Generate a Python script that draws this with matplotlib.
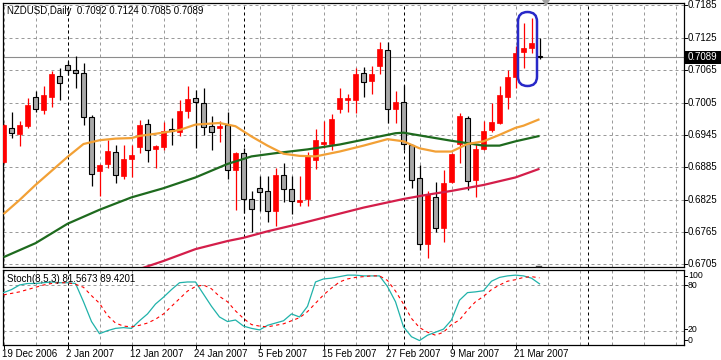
import matplotlib
matplotlib.use('Agg')
import matplotlib.pyplot as plt
from matplotlib.patches import Rectangle, FancyBboxPatch, Polygon
from matplotlib.lines import Line2D
from matplotlib.transforms import IdentityTransform, blended_transform_factory

plt.rcParams['font.family'] = ['Liberation Sans', 'DejaVu Sans']
plt.rcParams['font.size'] = 7

# ---------------- data ----------------
opens = [0.6895, 0.6958, 0.6947, 0.6961, 0.7015, 0.6992, 0.7016, 0.7055, 0.7074, 0.7066,
         0.7060, 0.6979, 0.6877, 0.6891, 0.6913, 0.6869, 0.6901, 0.6923, 0.6965, 0.6919,
         0.6923, 0.6956, 0.6950, 0.6990, 0.7013, 0.7004, 0.6961, 0.6957, 0.6964, 0.6880,
         0.6911, 0.6826, 0.6846, 0.6840, 0.6804, 0.6871, 0.6844, 0.6821, 0.6826, 0.6899,
         0.6928, 0.6928, 0.6993, 0.7010, 0.7010, 0.7060, 0.7044, 0.7072, 0.7103, 0.6993,
         0.7006, 0.6927, 0.6865, 0.6742, 0.6829, 0.6773, 0.6858, 0.6928, 0.6976, 0.6861,
         0.6919, 0.6954, 0.6967, 0.7016, 0.7053, 0.7099, 0.7106, 0.7092]
highs = [0.6966, 0.6988, 0.6970, 0.7013, 0.7026, 0.7035, 0.7063, 0.7069, 0.7082, 0.7091,
         0.7078, 0.6982, 0.6890, 0.6936, 0.6927, 0.6927, 0.6927, 0.6972, 0.6974, 0.6927,
         0.6968, 0.6976, 0.7009, 0.7035, 0.7029, 0.7032, 0.6980, 0.6970, 0.6988, 0.6914,
         0.6920, 0.6841, 0.6868, 0.6868, 0.6883, 0.6893, 0.6868, 0.6868, 0.6914, 0.6955,
         0.6970, 0.6984, 0.7032, 0.7021, 0.7069, 0.7070, 0.7072, 0.7118, 0.7117, 0.7026,
         0.7038, 0.6928, 0.6889, 0.6840, 0.6858, 0.6880, 0.6911, 0.6985, 0.6980, 0.6928,
         0.6970, 0.7005, 0.7035, 0.7066, 0.7109, 0.7153, 0.7162, 0.7124]
lows = [0.6893, 0.6939, 0.6925, 0.6958, 0.6987, 0.6984, 0.6997, 0.7010, 0.7056, 0.7032,
        0.6964, 0.6851, 0.6832, 0.6883, 0.6856, 0.6863, 0.6866, 0.6912, 0.6894, 0.6883,
        0.6917, 0.6927, 0.6942, 0.6976, 0.6920, 0.6945, 0.6917, 0.6931, 0.6863, 0.6806,
        0.6800, 0.6764, 0.6803, 0.6784, 0.6775, 0.6821, 0.6798, 0.6813, 0.6813, 0.6881,
        0.6920, 0.6917, 0.6985, 0.6988, 0.6985, 0.7016, 0.7021, 0.7058, 0.6967, 0.6967,
        0.6917, 0.6846, 0.6731, 0.6716, 0.6764, 0.6747, 0.6855, 0.6893, 0.6843, 0.6830,
        0.6916, 0.6951, 0.6965, 0.6993, 0.7032, 0.7069, 0.7097, 0.7085]
closes = [0.6964, 0.6948, 0.6964, 0.7001, 0.6993, 0.7019, 0.7057, 0.7041, 0.7065, 0.7060,
          0.6978, 0.6873, 0.6889, 0.6915, 0.6870, 0.6900, 0.6908, 0.6964, 0.6917, 0.6925,
          0.6953, 0.6952, 0.6990, 0.7012, 0.7006, 0.6959, 0.6951, 0.6962, 0.6880, 0.6911,
          0.6826, 0.6807, 0.6839, 0.6803, 0.6871, 0.6844, 0.6822, 0.6824, 0.6905, 0.6935,
          0.6932, 0.6975, 0.7013, 0.7014, 0.7058, 0.7043, 0.7057, 0.7104, 0.6993, 0.7006,
          0.6928, 0.6861, 0.6742, 0.6835, 0.6773, 0.6856, 0.6910, 0.6980, 0.6860, 0.6919,
          0.6953, 0.6969, 0.7019, 0.7052, 0.7097, 0.7106, 0.7115, 0.7089]

# moving averages (bar index, value)
ma_orange_idx = [0, 2, 4, 6, 8, 10, 12, 14, 16, 17, 19, 22, 24, 27, 29, 31, 33, 35, 37, 39,
                 42, 45, 48, 50, 52, 54, 56, 58, 60, 62, 64, 65, 67]
ma_orange_val = [0.6798, 0.6824, 0.6852, 0.6878, 0.6904, 0.6928, 0.6935, 0.6938, 0.6939, 0.6943,
                 0.6947, 0.6954, 0.6964, 0.6967, 0.6961, 0.6942, 0.6925, 0.6910, 0.6906, 0.6905,
                 0.6914, 0.6925, 0.6937, 0.6933, 0.6920, 0.6914, 0.6914, 0.6928, 0.6933, 0.6945,
                 0.6958, 0.6962, 0.6974]
ma_green_idx = [0, 4, 8, 12, 16, 20, 24, 28, 31, 34, 38, 42, 46, 49, 50, 52, 56, 60, 62, 64, 67]
ma_green_val = [0.6718, 0.6744, 0.6780, 0.6806, 0.6829, 0.6846, 0.6866, 0.6891, 0.6905, 0.6911,
                0.6918, 0.6927, 0.6939, 0.6948, 0.6949, 0.6944, 0.6934, 0.6925, 0.6925, 0.6933,
                0.6943]
ma_red_idx = [17, 20, 24, 28, 30, 33, 37, 41, 45, 50, 53, 56, 60, 62, 64, 67]
ma_red_val = [0.6696, 0.6711, 0.6733, 0.6748, 0.6754, 0.6766, 0.6780, 0.6795, 0.6810, 0.6826,
              0.6834, 0.6841, 0.6852, 0.6859, 0.6866, 0.6882]

# stochastic (8,5,3)
stoch_main = [70, 74, 80, 82, 82, 83, 84, 83, 83, 82, 58, 32, 16, 20, 23, 24, 23, 33, 42, 55,
              64, 74, 83, 84, 84, 68, 52, 38, 32, 34, 26, 23, 21, 27, 30, 33, 42, 38, 52, 84,
              88, 89, 91, 93, 93, 92, 92, 92, 78, 58, 25, 12, 7, 14, 18, 22, 34, 60, 70, 71,
              72.5, 85, 90, 92, 93, 92, 89, 81.5673]
stoch_signal = [67, 69, 71, 74, 77, 80, 82, 83, 83, 81, 77, 66, 56, 40, 30, 26, 25, 27, 30, 35,
                42, 52, 62, 72, 78, 80, 75, 65, 58, 46, 36, 28, 26, 25, 27, 29, 33, 37, 45, 56,
                67, 76, 84, 88, 90, 91, 92, 92, 86, 72, 55, 36, 24, 18, 14, 18, 28, 34, 47, 58,
                65, 74, 80, 85, 87, 90, 91, 89.4201]

price_levels = [0.7185, 0.7125, 0.7065, 0.7005, 0.6945, 0.6885, 0.6825, 0.6765, 0.6705]
price_labels = ["0.7185", "0.7125", "0.7065", "0.7005", "0.6945", "0.6885", "0.6825", "0.6765", "0.6705"]
date_idx = [0, 8, 16, 24, 32, 40, 48, 56, 64]
date_labels = ["19 Dec 2006", "2 Jan 2007", "12 Jan 2007", "24 Jan 2007", "5 Feb 2007",
               "15 Feb 2007", "27 Feb 2007", "9 Mar 2007", "21 Mar 2007"]
month_sep_idx = [8, 30, 50, 73]
stoch_levels = [80, 20]
stoch_axis_vals = [100, 80, 20, 0]
stoch_axis_labels = ["100", "80", "20", "0"]
last_price = 0.7089
header = "NZDUSD,Daily  0.7092 0.7124 0.7085 0.7089"
stoch_header = "Stoch(8,5,3) 81.5673 89.4201"

# ---------------- figure ----------------
W, H = 721, 360
fig = plt.figure(figsize=(W / 100, H / 100), dpi=100)
fig.patch.set_facecolor('white')

L, R = 2.5, 683.5
MT, MB = 2.5, 266.5
ST, SB = 269.5, 344.5
ax1 = fig.add_axes([L / W, 1 - MB / H, (R - L) / W, (MB - MT) / H])
ax2 = fig.add_axes([L / W, 1 - SB / H, (R - L) / W, (SB - ST) / H])

xl = ((L - 3.5) / 8, (R - 3.5) / 8)
ppx = 0.00018554
ax1.set_xlim(*xl)
ax1.set_ylim(0.6705 - (MB - 264.2) * ppx, 0.6705 + (264.2 - MT) * ppx)
ax2.set_xlim(*xl)
ax2.set_ylim(1.8, 100.4)

grid_kw = dict(color='#9a9a9a', lw=0.72, ls=(0, (3, 3)), zorder=0.5)
sep_kw = dict(color='black', lw=0.72, ls=(0, (3, 3)), zorder=0.6)
for ax in (ax1, ax2):
    ax.set_xticks([]); ax.set_yticks([])
    for s in ax.spines.values():
        s.set_color('black'); s.set_linewidth(0.9)
    for i in range(0, 86, 4):
        ax.axvline(i, **grid_kw)
    for i in month_sep_idx:
        ax.axvline(i, **sep_kw)
for p in price_levels:
    ax1.axhline(p, **grid_kw)
for v in stoch_levels:
    ax2.axhline(v, **grid_kw)

# bid line
ax1.axhline(last_price, color='#8c8c8c', lw=0.8, zorder=0.7)

# candles
bw = 0.6
for i, (o, h, l, c) in enumerate(zip(opens, highs, lows, closes)):
    up = c > o
    col = '#ff0000' if up else 'black'
    ax1.vlines(i, l, h, color=col, lw=0.9, zorder=2)
    bottom, top = min(o, c), max(o, c)
    hgt = max(top - bottom, 0.00008)
    if up:
        ax1.add_patch(Rectangle((i - bw / 2, bottom), bw, hgt, facecolor='#ff0000',
                                edgecolor='#ff0000', lw=0.5, zorder=3))
    else:
        fc = '#a8a8a8' if i < len(opens) - 1 else 'white'
        ax1.add_patch(Rectangle((i - bw / 2, bottom), bw, hgt, facecolor=fc,
                                edgecolor='black', lw=0.8, zorder=3))

# moving averages
ax1.plot(ma_red_idx, ma_red_val, color='#d41e4a', lw=1.6, zorder=4, solid_capstyle='butt')
ax1.plot(ma_green_idx, ma_green_val, color='#1e6a1e', lw=1.6, zorder=4, solid_capstyle='butt')
ax1.plot(ma_orange_idx, ma_orange_val, color='#f2a035', lw=1.6, zorder=4, solid_capstyle='butt')

# stochastic
xs = list(range(len(stoch_main)))
ax2.plot(xs, stoch_main, color='#20b2aa', lw=0.9, zorder=3)
ax2.plot(xs, stoch_signal, color='#ff0000', lw=0.8, ls=(0, (3, 3)), zorder=3)

# ---------------- texts ----------------
def ptext(px, py, s, **kw):
    fig.text(px / W, 1 - py / H, s, **kw)

ptext(7, 11, header, va='center', ha='left')
ptext(7, 279, stoch_header, va='center', ha='left')

bt = blended_transform_factory(fig.transFigure, ax1.transData)
for p, s in zip(price_levels, price_labels):
    fig.text(688 / W, p, s, transform=bt, va='center', ha='left')
    fig.add_artist(Line2D([R / W, 687 / W], [p, p], transform=bt, color='black', lw=0.7))

# current price box
py_last = 264.2 - (last_price - 0.6705) / ppx
fig.add_artist(Rectangle((685, H - py_last - 6.5), 36, 13, transform=IdentityTransform(),
                         facecolor='black', edgecolor='none'))
fig.text(688 / W, last_price, "0.7089", transform=bt, va='center', ha='left', color='white')

st_pos = {100: 92.5, 80: 80, 20: 22, 0: 7.5}
bt2 = blended_transform_factory(fig.transFigure, ax2.transData)
for v, s in zip(stoch_axis_vals, stoch_axis_labels):
    fig.text(688 / W, st_pos[v], s, transform=bt2, va='center', ha='left', fontsize=6.3)
    fig.add_artist(Line2D([R / W, 686.5 / W], [st_pos[v], st_pos[v]], transform=bt2,
                          color='black', lw=0.7))

bx = blended_transform_factory(ax2.transData, fig.transFigure)
for i, s in zip(date_idx, date_labels):
    xpix = 3.5 + 8 * i
    ptext(xpix - 1, 354, s, va='center', ha='left')
    fig.add_artist(Line2D([i, i], [1 - SB / H, 1 - (SB + 3) / H], transform=bx,
                          color='black', lw=0.7))

# highlight stadium around last bars
fig.add_artist(FancyBboxPatch((518, H - 86), 19, 74, boxstyle="round,pad=0,rounding_size=9.5",
                              transform=IdentityTransform(), facecolor='none',
                              edgecolor='#2828c8', lw=1.8))
# chart shift marker
fig.add_artist(Polygon([[542, H], [550, H], [546, H - 6]], closed=True,
                       transform=IdentityTransform(), facecolor='#a0a0a0', edgecolor='none'))
fig.add_artist(Line2D([536, 541], [H - 265.5, H - 265.5], transform=IdentityTransform(),
                      color='#404040', lw=1.0))

fig.savefig('out.png', dpi=100, facecolor='white')
